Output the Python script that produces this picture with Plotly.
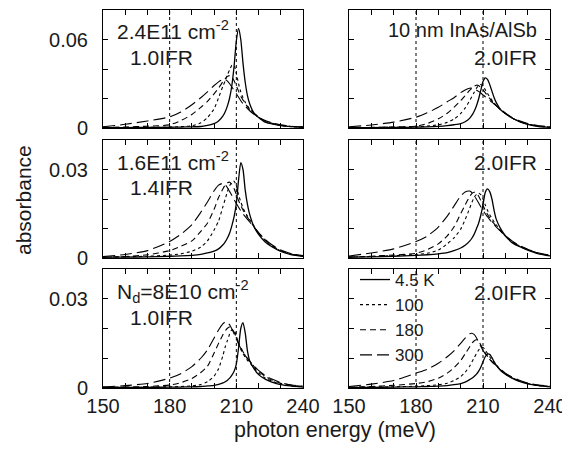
import plotly.graph_objects as go

# photon energy grid (meV)
energy = [150, 160, 170, 180, 185, 190, 194, 197, 200, 202, 204, 205, 206, 207, 208,
          209, 210, 211, 212, 213, 214, 215, 216, 218, 220, 223, 226, 230, 235, 240]
temps = ["4.5 K", "100", "180", "300"]

# panel 1: 2.4E11 cm-2, 1.0IFR
p1_t4 = [0.0003, 0.0003, 0.0004, 0.0005, 0.0006, 0.0008, 0.0010, 0.0018, 0.0030, 0.0048, 0.0082, 0.0110, 0.0150, 0.0205, 0.0290,
         0.0420, 0.0590, 0.0675, 0.0600, 0.0440, 0.0310, 0.0220, 0.0165, 0.0100, 0.0072, 0.0040, 0.0028, 0.0016, 0.0009, 0.0005]
p1_t100 = [0.0002, 0.0003, 0.0004, 0.0006, 0.0009, 0.0015, 0.0035, 0.0070, 0.0130, 0.0205, 0.0285, 0.0320, 0.0360, 0.0395, 0.0425,
           0.0425, 0.0370, 0.0300, 0.0245, 0.0205, 0.0175, 0.0150, 0.0130, 0.0100, 0.0072, 0.0045, 0.0030, 0.0017, 0.0009, 0.0005]
p1_t180 = [0.0004, 0.0007, 0.0012, 0.0022, 0.0050, 0.0092, 0.0140, 0.0180, 0.0232, 0.0270, 0.0315, 0.0335, 0.0350, 0.0355, 0.0345,
           0.0320, 0.0285, 0.0250, 0.0215, 0.0190, 0.0165, 0.0145, 0.0125, 0.0095, 0.0072, 0.0048, 0.0032, 0.0019, 0.0010, 0.0006]
p1_t300 = [0.0008, 0.0025, 0.0048, 0.0075, 0.0108, 0.0158, 0.0205, 0.0245, 0.0288, 0.0313, 0.0330, 0.0328, 0.0318, 0.0300, 0.0278,
           0.0255, 0.0232, 0.0208, 0.0185, 0.0165, 0.0148, 0.0132, 0.0117, 0.0092, 0.0072, 0.0050, 0.0035, 0.0021, 0.0012, 0.0007]

# panel 2: 10 nm InAs/AlSb, 2.0IFR
p2_t4 = [0.0003, 0.0003, 0.0004, 0.0006, 0.0008, 0.0011, 0.0016, 0.0022, 0.0030, 0.0042, 0.0065, 0.0085, 0.0112, 0.0148, 0.0195,
         0.0255, 0.0315, 0.0340, 0.0330, 0.0295, 0.0250, 0.0205, 0.0170, 0.0122, 0.0098, 0.0068, 0.0045, 0.0024, 0.0010, 0.0005]
p2_t100 = [0.0002, 0.0003, 0.0005, 0.0008, 0.0013, 0.0022, 0.0038, 0.0060, 0.0098, 0.0135, 0.0185, 0.0212, 0.0240, 0.0268, 0.0288,
           0.0295, 0.0285, 0.0260, 0.0235, 0.0210, 0.0190, 0.0170, 0.0152, 0.0122, 0.0098, 0.0068, 0.0046, 0.0026, 0.0012, 0.0006]
p2_t180 = [0.0002, 0.0004, 0.0007, 0.0012, 0.0030, 0.0062, 0.0100, 0.0140, 0.0185, 0.0220, 0.0255, 0.0270, 0.0283, 0.0290, 0.0288,
           0.0275, 0.0258, 0.0240, 0.0220, 0.0200, 0.0182, 0.0165, 0.0150, 0.0122, 0.0098, 0.0068, 0.0047, 0.0027, 0.0013, 0.0007]
p2_t300 = [0.0008, 0.0020, 0.0040, 0.0073, 0.0103, 0.0140, 0.0178, 0.0205, 0.0240, 0.0258, 0.0270, 0.0270, 0.0265, 0.0258, 0.0248,
           0.0237, 0.0225, 0.0212, 0.0200, 0.0187, 0.0175, 0.0162, 0.0150, 0.0125, 0.0102, 0.0072, 0.0050, 0.0030, 0.0015, 0.0008]

# panel 3: 1.6E11 cm-2, 1.4IFR
p3_t4 = [0.0003, 0.0003, 0.0004, 0.0006, 0.0007, 0.0009, 0.0012, 0.0017, 0.0023, 0.0031, 0.0045, 0.0055, 0.0068, 0.0085, 0.0110,
         0.0140, 0.0185, 0.0265, 0.0323, 0.0300, 0.0230, 0.0182, 0.0148, 0.0105, 0.0080, 0.0054, 0.0038, 0.0022, 0.0011, 0.0006]
p3_t100 = [0.0003, 0.0004, 0.0006, 0.0010, 0.0014, 0.0023, 0.0037, 0.0058, 0.0095, 0.0125, 0.0175, 0.0200, 0.0225, 0.0245, 0.0258,
           0.0260, 0.0245, 0.0215, 0.0190, 0.0170, 0.0155, 0.0142, 0.0130, 0.0108, 0.0085, 0.0060, 0.0041, 0.0024, 0.0012, 0.0006]
p3_t180 = [0.0003, 0.0005, 0.0011, 0.0025, 0.0040, 0.0058, 0.0090, 0.0118, 0.0165, 0.0205, 0.0235, 0.0248, 0.0255, 0.0257, 0.0250,
           0.0235, 0.0215, 0.0195, 0.0178, 0.0163, 0.0150, 0.0138, 0.0127, 0.0106, 0.0085, 0.0061, 0.0042, 0.0025, 0.0013, 0.0007]
p3_t300 = [0.0005, 0.0012, 0.0025, 0.0056, 0.0080, 0.0113, 0.0155, 0.0190, 0.0228, 0.0247, 0.0253, 0.0248, 0.0238, 0.0225, 0.0212,
           0.0198, 0.0185, 0.0172, 0.0160, 0.0150, 0.0140, 0.0131, 0.0122, 0.0104, 0.0086, 0.0063, 0.0045, 0.0027, 0.0014, 0.0008]

# panel 4: 2.0IFR
p4_t4 = [0.0003, 0.0004, 0.0006, 0.0009, 0.0011, 0.0014, 0.0018, 0.0025, 0.0034, 0.0043, 0.0057, 0.0067, 0.0080, 0.0098, 0.0117,
         0.0145, 0.0180, 0.0222, 0.0234, 0.0225, 0.0200, 0.0160, 0.0130, 0.0098, 0.0076, 0.0052, 0.0040, 0.0027, 0.0014, 0.0007]
p4_t100 = [0.0003, 0.0005, 0.0008, 0.0012, 0.0016, 0.0027, 0.0048, 0.0068, 0.0098, 0.0130, 0.0168, 0.0188, 0.0205, 0.0215, 0.0220,
           0.0215, 0.0200, 0.0180, 0.0162, 0.0147, 0.0134, 0.0122, 0.0112, 0.0092, 0.0074, 0.0055, 0.0041, 0.0028, 0.0015, 0.0008]
p4_t180 = [0.0003, 0.0006, 0.0010, 0.0016, 0.0028, 0.0048, 0.0075, 0.0105, 0.0150, 0.0180, 0.0208, 0.0218, 0.0223, 0.0220, 0.0210,
           0.0195, 0.0178, 0.0162, 0.0148, 0.0136, 0.0125, 0.0116, 0.0107, 0.0090, 0.0074, 0.0056, 0.0042, 0.0029, 0.0016, 0.0009]
p4_t300 = [0.0007, 0.0017, 0.0031, 0.0056, 0.0074, 0.0105, 0.0142, 0.0176, 0.0210, 0.0224, 0.0227, 0.0222, 0.0212, 0.0200, 0.0187,
           0.0174, 0.0162, 0.0150, 0.0140, 0.0130, 0.0121, 0.0113, 0.0105, 0.0090, 0.0076, 0.0058, 0.0044, 0.0030, 0.0017, 0.0010]

# panel 5: Nd=8E10 cm-2, 1.0IFR
p5_t4 = [0.0002, 0.0002, 0.0002, 0.0003, 0.0003, 0.0004, 0.0005, 0.0007, 0.0009, 0.0012, 0.0017, 0.0021, 0.0026, 0.0033, 0.0043,
         0.0056, 0.0080, 0.0135, 0.0200, 0.0220, 0.0185, 0.0125, 0.0092, 0.0064, 0.0045, 0.0030, 0.0020, 0.0011, 0.0006, 0.0003]
p5_t100 = [0.0002, 0.0002, 0.0003, 0.0004, 0.0005, 0.0007, 0.0012, 0.0021, 0.0040, 0.0065, 0.0110, 0.0138, 0.0160, 0.0182, 0.0196,
           0.0195, 0.0175, 0.0150, 0.0130, 0.0115, 0.0103, 0.0093, 0.0085, 0.0068, 0.0050, 0.0034, 0.0023, 0.0013, 0.0007, 0.0004]
p5_t180 = [0.0002, 0.0003, 0.0005, 0.0010, 0.0018, 0.0032, 0.0052, 0.0073, 0.0118, 0.0150, 0.0180, 0.0192, 0.0201, 0.0205, 0.0200,
           0.0187, 0.0170, 0.0152, 0.0136, 0.0122, 0.0110, 0.0100, 0.0090, 0.0072, 0.0056, 0.0039, 0.0027, 0.0016, 0.0009, 0.0005]
p5_t300 = [0.0003, 0.0008, 0.0015, 0.0033, 0.0048, 0.0072, 0.0100, 0.0128, 0.0168, 0.0195, 0.0216, 0.0222, 0.0220, 0.0212, 0.0198,
           0.0182, 0.0165, 0.0148, 0.0133, 0.0120, 0.0109, 0.0099, 0.0090, 0.0074, 0.0059, 0.0042, 0.0030, 0.0018, 0.0010, 0.0006]

# panel 6: 2.0IFR
p6_t4 = [0.0002, 0.0002, 0.0003, 0.0004, 0.0005, 0.0006, 0.0008, 0.0011, 0.0015, 0.0020, 0.0028, 0.0033, 0.0039, 0.0046, 0.0056,
         0.0070, 0.0088, 0.0105, 0.0114, 0.0113, 0.0102, 0.0088, 0.0076, 0.0058, 0.0046, 0.0033, 0.0023, 0.0014, 0.0008, 0.0004]
p6_t100 = [0.0002, 0.0003, 0.0004, 0.0006, 0.0008, 0.0011, 0.0016, 0.0025, 0.0038, 0.0053, 0.0073, 0.0087, 0.0101, 0.0115, 0.0127,
           0.0135, 0.0136, 0.0128, 0.0116, 0.0105, 0.0095, 0.0086, 0.0077, 0.0060, 0.0047, 0.0034, 0.0024, 0.0015, 0.0008, 0.0004]
p6_t180 = [0.0003, 0.0005, 0.0009, 0.0015, 0.0021, 0.0033, 0.0050, 0.0068, 0.0092, 0.0115, 0.0138, 0.0150, 0.0158, 0.0162, 0.0158,
           0.0145, 0.0130, 0.0118, 0.0107, 0.0097, 0.0089, 0.0081, 0.0074, 0.0060, 0.0048, 0.0035, 0.0025, 0.0016, 0.0009, 0.0005]
p6_t300 = [0.0005, 0.0013, 0.0025, 0.0050, 0.0063, 0.0083, 0.0105, 0.0125, 0.0150, 0.0168, 0.0182, 0.0184, 0.0180, 0.0170, 0.0155,
           0.0140, 0.0126, 0.0115, 0.0105, 0.0096, 0.0088, 0.0081, 0.0075, 0.0062, 0.0050, 0.0037, 0.0027, 0.0017, 0.0010, 0.0006]

x_ticks = [150, 160, 170, 180, 190, 200, 210, 220, 230, 240]
x_ticktext = ["150", "", "", "180", "", "", "210", "", "", "240"]
y_ticks_top = [0, 0.02, 0.04, 0.06, 0.08]
y_ticktext_top = ["0", "", "", "0.06", ""]
y_ticks_low = [0, 0.01, 0.02, 0.03, 0.04]
y_ticktext_low = ["0", "", "", "0.03", ""]
marker_lines = [180, 210]

panels = [
    [p1_t4, p1_t100, p1_t180, p1_t300],
    [p2_t4, p2_t100, p2_t180, p2_t300],
    [p3_t4, p3_t100, p3_t180, p3_t300],
    [p4_t4, p4_t100, p4_t180, p4_t300],
    [p5_t4, p5_t100, p5_t180, p5_t300],
    [p6_t4, p6_t100, p6_t180, p6_t300],
]

FONT = "Liberation Sans, Arial, Helvetica, sans-serif"
INK = "#1a1a1a"
dashes = ["solid", "dot", "6px,4px", "12px,5px"]
widths = [1.3, 1.1, 1.1, 1.1]

W, H = 570, 450
OFF = 8  # page body margin offset of the plot div


def fx(p):
    return (p - OFF) / W


def fy(p):
    return 1 - (p - OFF) / H


xdom = [[fx(103), fx(303)], [fx(349), fx(550)]]
ydom = [[fy(128), fy(10)], [fy(258), fy(140)], [fy(388), fy(269)]]

fig = go.Figure()
layout = dict(width=W, height=H, margin=dict(l=0, r=0, t=0, b=0, autoexpand=False),
              paper_bgcolor="white", plot_bgcolor="white",
              font=dict(family=FONT, size=20, color=INK))
shapes = []
for i, curves in enumerate(panels):
    n = i + 1
    sfx = "" if n == 1 else str(n)
    row, col = divmod(i, 2)
    for j, ys in enumerate(curves):
        fig.add_trace(go.Scatter(
            x=energy, y=ys, mode="lines", name=temps[j],
            line=dict(color="black", width=widths[j], dash=dashes[j], shape="spline", smoothing=0.6),
            showlegend=(n == 6), xaxis="x" + sfx, yaxis="y" + sfx, hoverinfo="skip"))
    axcommon = dict(showline=True, linecolor="black", linewidth=1, mirror="ticks",
                    ticks="inside", ticklen=5, tickcolor="black", tickwidth=1, automargin=False,
                    showgrid=False, zeroline=False, tickfont=dict(size=20, color=INK))
    layout["xaxis" + sfx] = dict(axcommon, domain=xdom[col], range=[150, 240],
                                 anchor="y" + sfx, tickmode="array", tickvals=x_ticks,
                                 ticktext=x_ticktext if row == 2 else [""] * len(x_ticks))
    if row == 0:
        tv, tt, rng = y_ticks_top, y_ticktext_top, [0, 0.08]
    else:
        tv, tt, rng = y_ticks_low, y_ticktext_low, [0, 0.04]
    layout["yaxis" + sfx] = dict(axcommon, domain=ydom[row], range=rng, anchor="x" + sfx,
                                 tickmode="array", tickvals=tv,
                                 ticktext=tt if col == 0 else [""] * len(tv),
                                 ticklabelstandoff=10)
    for xv in marker_lines:
        shapes.append(dict(type="line", xref="x" + sfx, yref="y" + sfx + " domain",
                           x0=xv, x1=xv, y0=0, y1=1,
                           line=dict(color="black", width=1, dash="dot")))


def ann(text, x, y, xanchor="left", size=20, angle=0):
    return dict(text=text, x=fx(x), y=fy(y), xref="paper", yref="paper",
                xanchor=xanchor, yanchor="middle", showarrow=False, textangle=angle,
                font=dict(family=FONT, size=size, color=INK))


annotations = [
    ann("2.4E11 cm<sup>-2</sup>", 115, 30, size=21),
    ann("1.0IFR", 128, 57, size=21),
    ann("1.6E11 cm<sup>-2</sup>", 115, 161, size=21),
    ann("1.4IFR", 128, 187, size=21),
    ann("N<sub>d</sub>=8E10 cm<sup>-2</sup>", 115, 291, size=21),
    ann("1.0IFR", 128, 317, size=21),
    ann("10 nm InAs/AlSb", 539, 30, xanchor="right"),
    ann("2.0IFR", 539, 57, xanchor="right", size=21),
    ann("2.0IFR", 539, 162, xanchor="right", size=21),
    ann("2.0IFR", 539, 292, xanchor="right", size=21),
    ann("absorbance", 23, 200, xanchor="center", angle=-90, size=21),
    ann("photon energy (meV)", 335, 430, xanchor="center", size=21.5),
]

layout["shapes"] = shapes
layout["annotations"] = annotations
layout["showlegend"] = True
layout["legend"] = dict(x=fx(355), y=fy(262), xanchor="left", yanchor="top",
                        bgcolor="rgba(0,0,0,0)", borderwidth=0, tracegroupgap=0,
                        font=dict(family=FONT, size=17, color=INK))
fig.update_layout(**layout)
fig.write_html("out.html")
